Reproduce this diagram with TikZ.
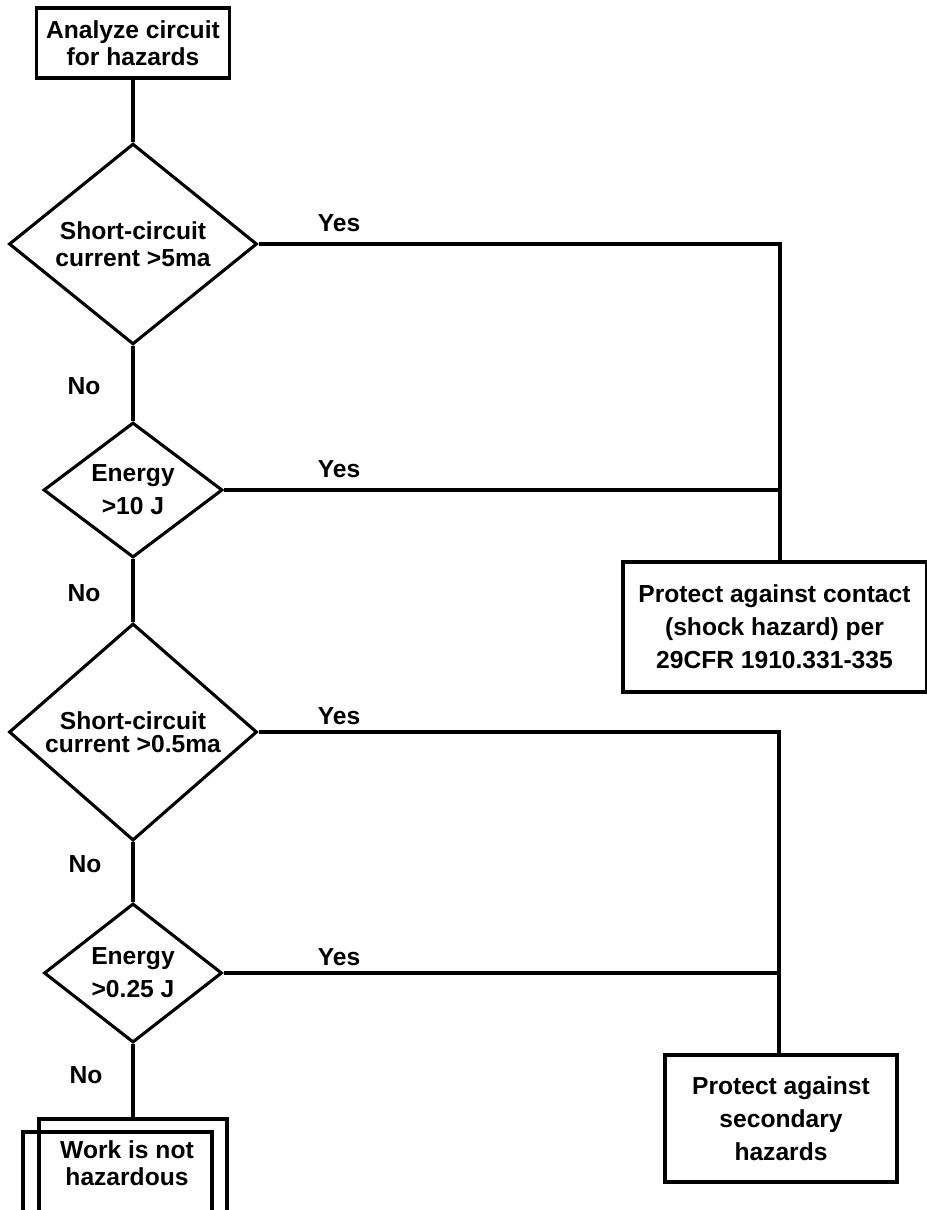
\documentclass[tikz,border=0pt]{standalone}
\usepackage{fontspec}
\setmainfont{Liberation Sans}
\usetikzlibrary{shapes.geometric}

\tikzset{
  box/.style={draw,line width=2.2pt,align=center,inner sep=0pt,
    font=\bfseries\fontsize{17.5}{19.5}\selectfont},
  decision/.style={draw,diamond,line width=2.2pt,align=center,inner sep=0pt,
    font=\bfseries\fontsize{17.5}{19.5}\selectfont},
  answer/.style={align=center,font=\bfseries\fontsize{17.5}{19.5}\selectfont},
  wire/.style={line width=2.2pt}
}

\begin{document}
\begin{tikzpicture}[x=0.025cm,y=-0.025cm]
\useasboundingbox (0,0) rectangle (927,1210);
% left column
\node[box,minimum width=4.825cm,minimum height=1.75cm] (start) at (133,43) {Analyze circuit\\for hazards};
\node[decision,minimum width=6.2cm,minimum height=4.825cm] (d1) at (133,244) {Short-circuit\\current >5ma};
\node[decision,minimum width=4.475cm,minimum height=3.375cm] (d2) at (133,490) {Energy\\[4pt]>10 J};
\node[decision,minimum width=6.2cm,minimum height=4.65cm] (d3) at (133,732) {Short-circuit\\[-3pt]current >0.5ma};
\node[decision,minimum width=4.45cm,minimum height=3.475cm] (d4) at (133,973) {Energy\\[4pt]>0.25 J};
\node[box,minimum width=4.7cm,minimum height=2.9cm] (safe) at (133,1177) {};
\node[box,minimum width=4.725cm,minimum height=2.9cm] (safecopy) at (117.5,1190) {};
\node[answer] (safetext) at (127,1163) {Work is not\\hazardous};
% right column
\node[box,minimum width=7.575cm,minimum height=3.25cm] (contact) at (774.5,627) {Protect against contact\\[4pt](shock hazard) per\\[4pt]29CFR 1910.331-335};
\node[box,minimum width=5.8cm,minimum height=3.175cm] (secondary) at (781,1118.5) {Protect against\\[4pt]secondary\\[4pt]hazards};
% no branch
\draw[wire] (start) -- (d1);
\draw[wire] (d1) -- (d2);
\draw[wire] (d2) -- (d3);
\draw[wire] (d3) -- (d4);
\draw[wire] (d4) -- (safe);
% yes branch
\coordinate (jointA) at (780,244);
\coordinate (jointB) at (779,732);
\draw[wire] (d1.east) -- (jointA) -- (jointA |- contact.north);
\draw[wire] (d2.east) -- (d2.east -| jointA);
\draw[wire] (d3.east) -- (jointB) -- (jointB |- secondary.north);
\draw[wire] (d4.east) -- (d4.east -| jointB);
% labels
\node[answer] (yes1) at (339,223) {Yes};
\node[answer] (yes2) at (339,469) {Yes};
\node[answer] (yes3) at (339,716) {Yes};
\node[answer] (yes4) at (339,957) {Yes};
\node[answer] (no1) at (84,386) {No};
\node[answer] (no2) at (84,593) {No};
\node[answer] (no3) at (85,864) {No};
\node[answer] (no4) at (86,1075) {No};
\end{tikzpicture}
\end{document}
